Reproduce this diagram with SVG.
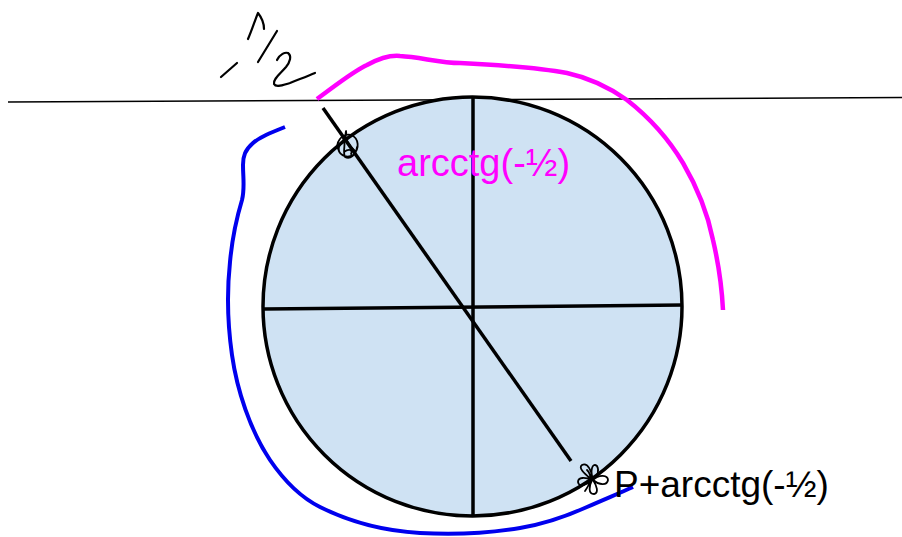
<svg xmlns="http://www.w3.org/2000/svg" width="902" height="537" viewBox="0 0 902 537">
<style>
.ink{fill:none;stroke:#000;stroke-linecap:round;stroke-linejoin:round}
.lbl{font-family:"Liberation Sans",Arial,sans-serif}
</style>
<rect width="902" height="537" fill="#fff"/>
<g id="horizon">
<line x1="8" y1="102" x2="902" y2="97.5" stroke="#000" stroke-width="1.6"/>
</g>
<g id="circle">
<circle cx="472.5" cy="306.5" r="209.5" fill="#cfe2f3" stroke="#000" stroke-width="3.5"/>
<line x1="473" y1="97" x2="473" y2="515" stroke="#000" stroke-width="3.5"/>
<line x1="264" y1="309" x2="683" y2="305" stroke="#000" stroke-width="3.5"/>
<line x1="323" y1="108" x2="571" y2="461" stroke="#000" stroke-width="3.5"/>
</g>
<g id="magenta-arc">
<path d="M317,99 C335,86 352,72 367,65 C380,58 390,55 400,56 C420,57 440,63 460,63 C500,65 540,68 567,73 C590,78 610,88 627,100 C650,118 668,138 683,163 C700,192 708,215 713,240 C720,270 722,290 723,310" fill="none" stroke="#ff00ff" stroke-width="4.5" stroke-linecap="butt"/>
</g>
<g id="blue-arc">
<path d="M285,127 C270,133 260,137 253,143 C245,150 243,156 243,165 C243,178 245,188 242,200 C236,220 232,240 230,262 C227,290 227,320 232,355 C237,390 250,430 270,460 C285,482 300,497 320,507 C350,522 385,531 420,533 C455,535 490,533 520,528 C545,524 567,516 587,507 C605,499 620,493 633,487" fill="none" stroke="#0000ee" stroke-width="4" stroke-linecap="butt"/>
</g>
<g id="handwriting">
<path class="ink" stroke-width="2.2" d="M221,77 L237,63"/>
<path class="ink" stroke-width="2.2" d="M248,39 C252,30 255,20 258,13 C262,18 264,22 264,29"/>
<path class="ink" stroke-width="2.2" d="M277,31 L258,62"/>
<path class="ink" stroke-width="2.2" d="M277,60 C280,54 285,52 288,53 C292,56 290,62 286,67 C280,74 273,79 274,84 C276,88 283,85 290,83 C300,79 308,76 315,73"/>
</g>
<g id="marker-1">
<path class="ink" stroke-width="1.8" d="M339,151 C334,143 342,133 351,135 C359,138 360,149 353,155 C346,159 337,154 339,147 C341,140 348,138 346,131 C344,138 349,146 355,151 M343,138 C347,143 342,150 345,157 C350,160 356,155 357,147 M344,152 C349,148 353,150 351,154"/>
</g>
<g id="marker-2">
<path class="ink" stroke-width="1.8" d="M592,480 C584,473 578,468 582,465 C588,462 592,472 593,480 C590,471 592,462 597,466 C600,471 596,477 593,480 C599,474 608,475 608,480 C607,486 599,485 593,480 C597,486 599,493 594,494 C588,494 589,486 592,480 C586,485 579,488 578,482 C578,477 585,477 592,480 M587,470 C593,476 590,484 585,491"/>
</g>
<g id="labels">
<text class="lbl" x="397" y="176" font-size="38" fill="#ff00ff">arcctg(-½)</text>
<text class="lbl" x="614" y="497" font-size="37" fill="#000">P+arcctg(-½)</text>
</g>
</svg>
